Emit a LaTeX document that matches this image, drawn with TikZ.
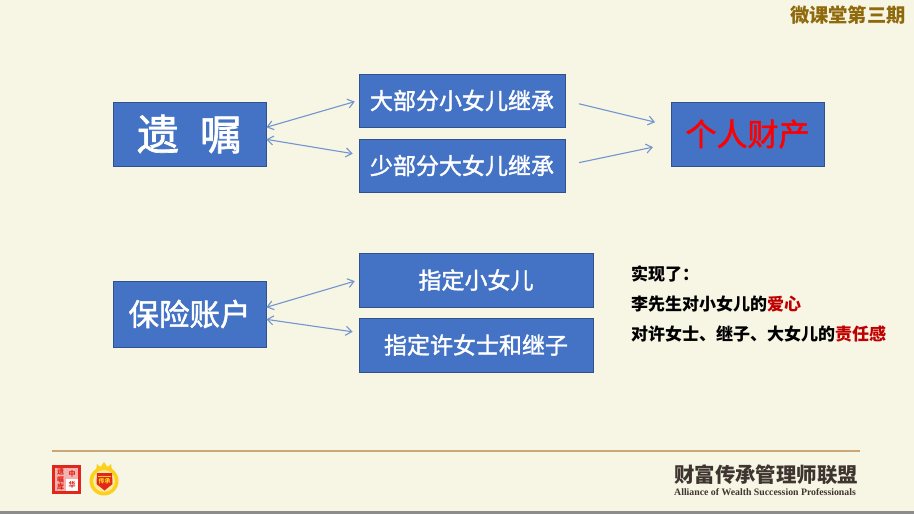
\documentclass[tikz,border=0pt]{standalone}
\usepackage{fontspec}
\setmainfont{Noto Sans CJK SC}
\newfontfamily\medfont[FakeBold=1.6]{Noto Sans CJK SC}
\newfontfamily\engfont{Liberation Serif}
\usetikzlibrary{arrows.meta, positioning}
\definecolor{mBack}{HTML}{F7F5E4}
\definecolor{mBlue}{HTML}{4472C4}
\definecolor{mEdge}{HTML}{2F528F}
\definecolor{mArrow}{HTML}{7295CE}
\definecolor{mGold}{HTML}{8F6A0C}
\definecolor{mRule}{HTML}{C9A877}
\definecolor{mBrown}{HTML}{3F3530}
\definecolor{mRed}{HTML}{C00000}
\definecolor{mSeal}{HTML}{E2261C}
\definecolor{mYellow}{HTML}{FBD11E}
\tikzset{
  bluebox/.style={draw=mEdge, line width=0.8pt, fill=mBlue, text=white, inner sep=0pt, align=center},
  lnk/.style={draw=mArrow, line width=1.1pt, -{Straight Barb[length=6pt,width=9pt]}},
  bothlnk/.style={lnk, {Straight Barb[length=6pt,width=9pt]}-{Straight Barb[length=6pt,width=9pt]}},
  notetext/.style={anchor=west, inner sep=0pt, font=\fontsize{17}{19}\selectfont\bfseries},
  sealtext/.style={inner sep=0pt, text=mSeal, align=center, font=\fontsize{7}{7.6}\selectfont\bfseries}
}
\begin{document}
\begin{tikzpicture}[x=1pt, y=-1pt]
    \useasboundingbox (0,0) rectangle (914,514);
    \fill[mBack] (0,0) rectangle (914,514);
    \fill[black!45] (0,511) rectangle (914,514);
    % left column
    \node[bluebox, minimum width=153pt, minimum height=64pt, font=\fontsize{42}{46}\selectfont\medfont] (will) at (189.5,134) {遗\hspace{0.5em}嘱};
    \node[bluebox, minimum width=153pt, minimum height=66pt, font=\fontsize{30.5}{34}\selectfont\medfont] (policy) at (189.5,314) {保险账户};
    % middle column
    \node[bluebox, minimum width=206pt, minimum height=53pt, font=\fontsize{23}{26}\selectfont\medfont] (bigpart) at (462,100.5) {大部分小女儿继承};
    \node[bluebox, minimum width=206pt, minimum height=53pt, font=\fontsize{23}{26}\selectfont\medfont] (smallpart) at (462,165.5) {少部分大女儿继承};
    \node[bluebox, minimum width=234pt, minimum height=54pt, font=\fontsize{23}{26}\selectfont\medfont] (younger) at (476,280) {指定小女儿};
    \node[bluebox, minimum width=234pt, minimum height=54pt, font=\fontsize{23}{26}\selectfont\medfont] (others) at (476,345) {指定许女士和继子};
    % right
    \node[bluebox, minimum width=153pt, minimum height=64pt, text=red, font=\fontsize{31}{34}\selectfont\medfont] (estate) at (747.5,134) {个人财产};
    % arrows
    \draw[bothlnk, shorten >=4pt] (will.5) -- (bigpart.west);
    \draw[bothlnk, shorten >=6pt] (will.-4) -- (smallpart.174);
    \draw[bothlnk, shorten >=4pt] (policy.5) -- (younger.west);
    \draw[bothlnk, shorten >=6pt] (policy.-4) -- (others.174);
    \draw[lnk, shorten <=14pt, shorten >=16pt] (bigpart.east) -- (estate.174);
    \draw[lnk, shorten <=14pt, shorten >=18pt] (smallpart.east) -- (estate.187);
    % note
    \node[notetext] (note1) at (631,274) {实现了：};
    \node[notetext] (note2) at (631,304) {李先生对小女儿的\textcolor{mRed}{爱心}};
    \node[notetext] (note3) at (631,334) {对许女士、继子、大女儿的\textcolor{mRed}{责任感}};
    % top corner
    \node[anchor=east, inner sep=0pt, text=mGold, font=\fontsize{19.3}{22}\selectfont\bfseries] (issue) at (906,15) {微课堂第三期};
    % footer
    \coordinate (ruleL) at (52,451);
    \coordinate (ruleR) at (860,451);
    \draw[mRule, line width=1.6pt] (ruleL) -- (ruleR);
    \node[anchor=west, inner sep=0pt, text=mBrown, font=\fontsize{20.4}{22}\selectfont\bfseries] (league) at (674,475) {财富传承管理师联盟};
    \node[anchor=west, inner sep=0pt, text=mBrown, font=\engfont\fontsize{9.8}{11}\selectfont\bfseries] (leagueen) at (674,492) {Alliance of Wealth Succession Professionals};
    % seal
    \fill[mSeal] (52,465) rectangle (81,494);
    \fill[mSeal!35!white] (55,468) rectangle (78,491);
    \fill[white] (66,479) rectangle (78,491);
    \node[sealtext] (sealA) at (72,473.5) {中};
    \node[sealtext] (sealB) at (72,485) {华};
    \node[sealtext] (sealC) at (60.5,479.5) {遗\\嘱\\库};
    % badge
    \fill[mYellow] (104,481) circle (14.5);
    \fill[white!55!mYellow] (104,481) circle (11);
    \fill[mYellow] (96,470) -- (97,464) -- (100.5,467) -- (104,462) -- (107.5,467) -- (111,464) -- (112,470) -- cycle;
    \fill[mSeal] (97,473) -- (112,473) -- (112.5,484) -- (104.5,490.5) -- (96.5,484) -- cycle;
    \fill[mYellow] (98,476) rectangle (111,477);
    \node[inner sep=0pt, text=mYellow, font=\fontsize{6}{7}\selectfont\bfseries] (badge) at (104.5,481.5) {传承};
\end{tikzpicture}
\end{document}
